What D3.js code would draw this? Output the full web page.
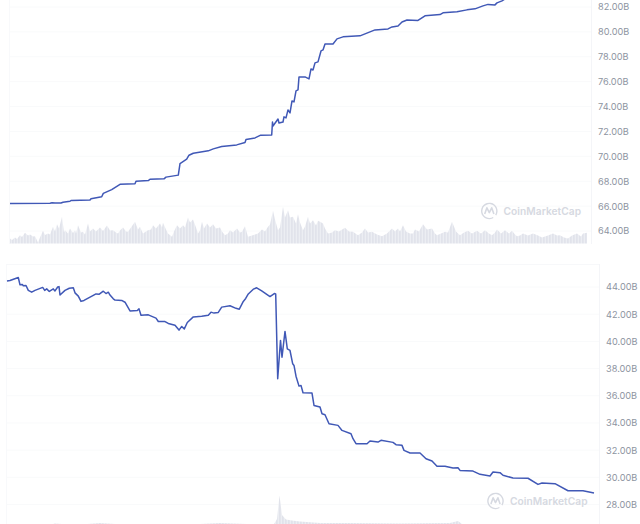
<!DOCTYPE html>
<html>
<head>
<meta charset="utf-8">
<style>html,body{margin:0;padding:0;background:#fff}svg{display:block}</style>
<script src="https://cdn.jsdelivr.net/npm/d3@7"></script>
</head>
<body>
<svg id="c" width="640" height="524"></svg>
<script>
// Top panel: series in billions, with position along the time axis
const topTime = [10,50,52,55,61,63,70,71,90,91,101.7,103.3,111.7,120,135,136,148.3,150,164,166,178.3,180,186.7,189,193.3,208.3,213.3,221.7,236.7,245,246,255,260.7,271.7,272.5,273,278,279,283,284,286,288,290,292,294,296,298,299,305,309,311,313,315,318,321,323,325,333,337,343,360,375,388,392,398,402,407,418,425,440,443,457,467,475,483,488,495,497,502,505,510,587];
const topValues = [66.21,66.23,66.27,66.25,66.25,66.31,66.39,66.45,66.49,66.59,66.75,67.02,67.33,67.75,67.79,68.00,68.05,68.16,68.19,68.33,68.49,69.42,69.77,70.09,70.25,70.44,70.60,70.79,70.92,71.11,71.35,71.48,71.70,71.72,72.76,72.44,73.00,72.68,72.76,73.17,73.09,73.73,73.49,74.45,74.37,75.26,75.34,76.38,76.38,76.22,77.02,76.94,77.51,77.59,78.47,78.55,79.03,79.03,79.44,79.60,79.68,80.16,80.24,80.40,80.48,80.80,80.96,80.92,81.29,81.39,81.53,81.61,81.77,81.85,82.09,82.21,82.17,82.33,82.49,82.65,82.81,83.55];
const topTicks = [64,66,68,70,72,74,76,78,80,82];

const topVolTime = [10,12,15,17,20,22,25,28,30,33,35,38,40,43,45,48,50,53,55,57,59,62,64,65,68,70,73,75,76,78,81,83,85,88,90,93,96,100,103,107,110,113,116,118,120,123,126,128,131,135,138,140,142,143,146,148,151,153,156,160,162,163,166,168,172,174,177,180,183,185,188,190,193,196,198,200,202,204,207,210,213,216,220,222,225,228,230,233,237,240,242,245,248,252,255,258,262,265,268,270,273,275,278,280,283,285,288,290,293,296,298,300,303,305,308,310,313,316,318,320,323,325,328,332,335,339,345,349,353,358,362,365,368,372,377,382,387,392,395,398,400,403,406,410,413,415,419,423,427,432,435,437,441,445,448,452,456,460,464,468,472,477,481,485,489,492,495,497,501,505,509,512,515,517,520,523,528,533,538,542,548,553,557,560,564,568,572,577,581,583,587];
const topVolume = [.5,.35,.6,.45,.83,.65,1.07,.8,.9,.7,.73,.1,.6,1.27,.85,1.0,.9,1.67,1.2,1.93,1.5,2.67,1.1,1.33,1.0,1.5,1.05,1.33,1.0,1.83,1.1,1.17,.9,2.0,1.2,1.5,1.2,1.6,1.25,1.8,1.3,1.33,1.1,1.0,1.3,1.6,1.2,1.17,1.6,2.17,1.4,1.67,1.2,1.0,1.2,1.33,1.4,1.83,1.5,2.0,1.6,2.07,1.4,1.0,.67,1.2,1.83,1.5,1.83,1.6,2.6,2.1,2.4,1.6,1.0,1.3,2.17,1.5,2.0,1.6,1.93,1.5,1.6,1.2,.83,1.0,1.33,1.1,1.5,1.1,1.17,1.73,.67,.8,.9,1.0,1.4,1.2,1.67,1.9,3.27,2.4,1.33,1.6,3.67,2.6,3.33,2.6,2.67,2.0,2.93,2.1,1.33,1.7,2.67,2.0,2.33,1.8,2.27,2.17,2.0,1.5,1.0,1.1,1.33,1.2,1.57,1.2,1.17,.83,1.1,1.5,1.1,1.17,.9,.73,1.0,1.5,1.2,1.5,1.2,1.83,1.2,1.0,1.0,1.4,1.2,1.93,1.4,1.5,1.0,.83,1.0,1.17,1.1,2.17,1.2,.83,1.1,1.27,1.0,1.27,1.0,1.33,1.0,.83,1.1,1.4,1.0,1.33,1.0,1.27,.9,.73,.8,1.0,.8,1.0,.8,.6,.8,1.0,.8,.83,.6,.5,.8,1.0,.7,1.0,1.07];

// Bottom panel
const bottomTime = [7,10,18.3,20,22.3,23.3,26,28.3,31.7,35,42.7,44.7,46.7,49.3,53.3,55,57.7,59,60,65,69.3,73.3,75,78.3,81,84,93.3,96,99.3,103.3,106,108.3,110,113.3,115,121.7,125,130,137.3,139,141,148.3,156,158.3,165,168.3,175,179,181.7,184.3,187.3,193.3,201.7,208.3,211,214,218.3,221.7,230,236,239.3,243.3,245.7,248.3,253.3,256.7,261.7,270,274.3,275.7,277.7,280.5,282,285,287.3,290,292.7,294,296,299,301,303,312,314,320,322,325,329,338,342,351,353,356,367,370,378,381,393,396,402,404,410,420,426,432,437,445,453,458,460,473,480,490,493,500,503,513,528,538,542,555,568,583,594];
const bottomValues = [44.45,44.48,44.70,44.16,44.19,44.09,44.11,43.75,43.62,43.75,43.97,43.75,43.86,43.67,43.86,43.71,44.00,44.03,43.41,43.75,43.91,43.94,43.57,43.33,42.94,43.01,43.38,43.49,43.47,43.69,43.52,43.62,43.41,43.13,43.04,43.01,42.88,42.24,42.27,42.39,41.92,41.95,41.71,41.46,41.46,41.32,41.19,40.83,41.10,40.92,41.39,41.80,41.85,41.92,42.15,42.08,42.13,42.52,42.62,42.43,42.37,42.94,43.16,43.49,43.84,43.94,43.71,43.30,43.52,43.49,37.25,40.07,38.84,40.73,39.45,39.33,38.35,38.23,37.44,36.71,36.76,36.22,36.20,35.29,35.17,34.67,34.60,33.94,33.82,33.45,33.20,32.84,32.47,32.47,32.67,32.59,32.72,32.57,32.40,32.35,31.98,31.79,31.79,31.37,31.20,30.81,30.81,30.68,30.70,30.51,30.46,30.22,30.10,30.39,30.34,30.15,29.95,29.93,29.48,29.58,29.53,29.01,29.01,28.85];
const bottomTicks = [28,30,32,34,36,38,40,42,44];

const bottomVolTime = [8,45,55,75,100,130,190,220,260,274,277,279.5,282,286,292,300,320,350,400,450,458,462,500,590];
const bottomVolume = [0.9,0.9,1.15,1.0,1.2,1.0,1.05,1.2,1.05,1.1,1.6,3.95,2.0,1.55,1.45,1.35,1.2,1.2,1.15,1.2,1.4,1.1,1.0,0.9];

const svg = d3.select("#c");
const fmt = d => d.toFixed(2) + "B";
const defs = svg.append("defs");
const pat = defs.append("pattern").attr("id","stripes").attr("width",3).attr("height",10).attr("patternUnits","userSpaceOnUse");
pat.append("rect").attr("width",3).attr("height",10).attr("fill","#eceef3");
pat.append("rect").attr("width",1.7).attr("height",10).attr("fill","#e1e3eb");

function logo(g, cx, cy, tx) {
  const col = "#d6d9e1";
  g.append("path").attr("transform",`translate(${cx},${cy})`)
    .attr("d", d3.arc()({innerRadius:6.9,outerRadius:8.3,startAngle:2.6,endAngle:2.6+Math.PI*1.85}))
    .attr("fill",col);
  g.append("path").attr("transform",`translate(${cx},${cy})`)
    .attr("d","M-4.6,3 L-2.4,-3.2 L0,1.6 L2.4,-3.2 L4.6,3")
    .attr("fill","none").attr("stroke",col).attr("stroke-width",1.6).attr("stroke-linejoin","round");
  g.append("text").attr("x",tx).attr("y",cy+3.8).attr("fill",col)
    .attr("font-family","Inter").attr("font-size",10.2).attr("font-weight",600).attr("letter-spacing",0.05)
    .text("CoinMarketCap");
}

function panel(o) {
  const g = svg.append("g");
  const x = d3.scaleLinear().domain(o.xDomain).range(o.xDomain);
  const y = d3.scaleLinear().domain([o.ticks[0], o.ticks[o.ticks.length-1]]).range(o.yRange);
  const yV = d3.scaleLinear().domain([0,4]).range([o.volBase, o.volBase-40]);

  g.selectAll(".grid").data(o.ticks).join("line")
    .attr("x1",o.left).attr("x2",o.right).attr("y1",d=>y(d)).attr("y2",d=>y(d))
    .attr("stroke","#f9fafb").attr("stroke-width",1);
  g.append("line").attr("x1",o.right+.5).attr("x2",o.right+.5).attr("y1",o.frameTop).attr("y2",o.frameBottom).attr("stroke","#f4f5f8");
  g.append("line").attr("x1",o.left+.5).attr("x2",o.left+.5).attr("y1",o.frameTop).attr("y2",o.frameBottom).attr("stroke","#f8f9fb");
  if (o.topRule) g.append("line").attr("x1",o.left).attr("x2",o.right).attr("y1",o.frameTop+.5).attr("y2",o.frameTop+.5).attr("stroke","#f7f8fa");

  g.append("path").datum(o.volT.map((t,i)=>[t,o.vol[i]]))
    .attr("fill","url(#stripes)")
    .attr("d", d3.area().x(d=>x(d[0])).y0(o.volBase).y1(d=>yV(d[1])));

  logo(g, o.logoX, o.logoY, o.logoTextX);

  g.append("path").datum(o.t.map((t,i)=>[t,o.v[i]]))
    .attr("fill","none").attr("stroke",o.color).attr("stroke-width",1.5).attr("stroke-linejoin","round")
    .attr("d", d3.line().x(d=>x(d[0])).y(d=>y(d[1])));

  const ax = d3.axisRight(y).tickValues(o.ticks).tickFormat(fmt).tickSize(0).tickPadding(0);
  const a = g.append("g").attr("transform",`translate(${o.labelX},0)`).call(ax);
  a.select(".domain").remove();
  a.selectAll("text").attr("fill","#8d94a1").attr("font-family","Inter").attr("font-size",9.2);
}

panel({t:topTime,v:topValues,volT:topVolTime,vol:topVolume,ticks:topTicks,
  xDomain:[10,590],yRange:[231,7],volBase:243.5,left:9,right:591,frameTop:0,frameBottom:244,labelX:598,
  logoX:489.3,logoY:211,logoTextX:503.5,color:"#4058b6"});
panel({t:bottomTime,v:bottomValues,volT:bottomVolTime,vol:bottomVolume,ticks:bottomTicks,
  xDomain:[7,594],yRange:[504.5,287],volBase:535,left:6,right:599,frameTop:264,frameBottom:524,labelX:606,topRule:true,
  logoX:495.5,logoY:501,logoTextX:510,color:"#4058b6"});
</script>
</body>
</html>
